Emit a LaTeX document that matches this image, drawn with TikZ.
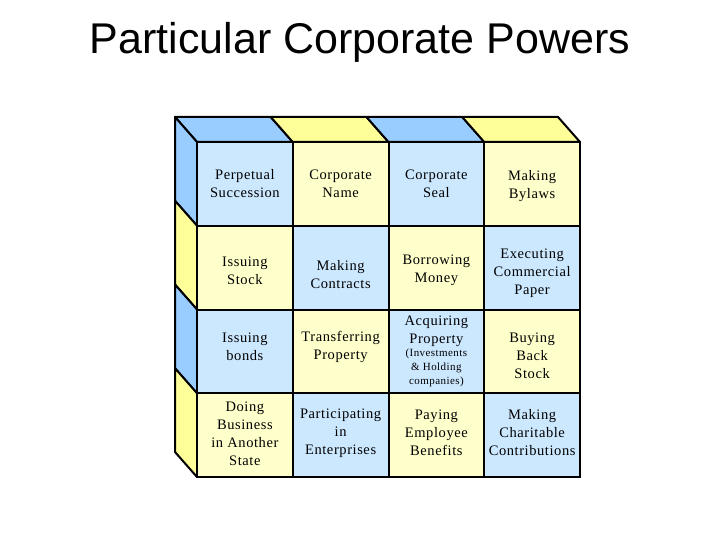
\documentclass[tikz,border=0pt]{standalone}
\usepackage{fontspec}
\setmainfont{Liberation Serif}
\newfontfamily\titlefont{Liberation Sans}
\newfontfamily\cellfont[LetterSpace=4]{Liberation Serif}
\definecolor{fblue}{HTML}{CCE8FF}
\definecolor{fyellow}{HTML}{FFFFCC}
\definecolor{tblue}{HTML}{99CCFF}
\definecolor{tyellow}{HTML}{FFFF99}
\tikzset{
  cell/.style={draw=black, line width=2pt, minimum width=95.75pt, minimum height=83.75pt,
    inner sep=0pt},
  bcell/.style={cell, fill=fblue},
  ycell/.style={cell, fill=fyellow},
  txt/.style={inner sep=0pt, align=center, font=\cellfont\fontsize{14.5}{18}\selectfont},
  face/.style={draw=black, line width=2pt, line join=round}
}
\begin{document}
\begin{tikzpicture}[x=1pt,y=-1pt]
\useasboundingbox (0,0) rectangle (720,540);
\node[anchor=base, font=\titlefont\fontsize{43}{50}\selectfont] (title) at (360,54) {Particular Corporate Powers};
% top faces
\foreach \i/\c in {0/tblue,1/tyellow,2/tblue,3/tyellow}{
  \path[face, fill=\c] ({197+95.75*\i},142) -- ({197+95.75*(\i+1)},142) -- ({175+95.75*(\i+1)},117) -- ({175+95.75*\i},117) -- cycle;
}
% left faces
\foreach \j/\c in {0/tblue,1/tyellow,2/tblue,3/tyellow}{
  \path[face, fill=\c] (197,{142+83.75*\j}) -- (197,{142+83.75*(\j+1)}) -- (175,{117+83.75*(\j+1)}) -- (175,{117+83.75*\j}) -- cycle;
}
% front cells
\node[bcell] (c11) at (244.875,183.875) {};
\node[ycell] (c12) at (340.625,183.875) {};
\node[bcell] (c13) at (436.375,183.875) {};
\node[ycell] (c14) at (532.125,183.875) {};
\node[ycell] (c21) at (244.875,267.625) {};
\node[bcell] (c22) at (340.625,267.625) {};
\node[ycell] (c23) at (436.375,267.625) {};
\node[bcell] (c24) at (532.125,267.625) {};
\node[bcell] (c31) at (244.875,351.375) {};
\node[ycell] (c32) at (340.625,351.375) {};
\node[bcell] (c33) at (436.375,351.375) {};
\node[ycell] (c34) at (532.125,351.375) {};
\node[ycell] (c41) at (244.875,435.125) {};
\node[bcell] (c42) at (340.625,435.125) {};
\node[ycell] (c43) at (436.375,435.125) {};
\node[bcell] (c44) at (532.125,435.125) {};
% texts
\node[txt] (t11) at (c11) {Perpetual\\Succession};
\node[txt] (t12) at (c12) {Corporate\\Name};
\node[txt] (t13) at (c13) {Corporate\\Seal};
\node[txt, yshift=-2pt] (t14) at (c14) {Making\\Bylaws};
\node[txt, yshift=-3pt] (t21) at (c21) {Issuing\\Stock};
\node[txt, yshift=-7pt] (t22) at (c22) {Making\\Contracts};
\node[txt, yshift=-3pt] (t23) at (c23) {Borrowing\\Money};
\node[txt, yshift=-6pt] (t24) at (c24) {Executing\\Commercial\\Paper};
\node[txt, yshift=5pt] (t31) at (c31) {Issuing\\bonds};
\node[txt, yshift=4pt] (t32) at (c32) {Transferring\\Property};
\node[txt] (t33) at (c33) {\parbox{94pt}{\centering Acquiring\\Property\par\vspace{-1pt}{\fontsize{11}{14}\selectfont(Investments\\\& Holding\\companies)\par}}};
\node[txt, yshift=-4pt] (t34) at (c34) {Buying\\Back\\Stock};
\node[txt, yshift=1pt] (t41) at (c41) {Doing\\Business\\in Another\\State};
\node[txt, yshift=2pt] (t42) at (c42) {Participating\\in\\Enterprises};
\node[txt, yshift=2pt] (t43) at (c43) {Paying\\Employee\\Benefits};
\node[txt, yshift=3pt] (t44) at (c44) {Making\\Charitable\\Contributions};
\end{tikzpicture}
\end{document}
